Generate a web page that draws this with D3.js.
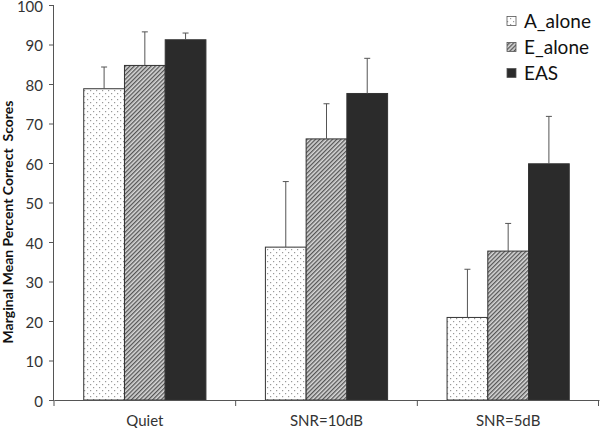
<!DOCTYPE html>
<html><head><meta charset="utf-8">
<script src="https://cdn.jsdelivr.net/npm/d3@7"></script>
<style>body{margin:0;background:#fff}svg{display:block}</style>
</head><body>
<svg id="c" width="600" height="428"></svg>
<script>
const categories = ["Quiet", "SNR=10dB", "SNR=5dB"];
const seriesNames = ["A_alone", "E_alone", "EAS"];
const aAlone = [78.8, 38.7, 20.9];
const eAlone = [84.7, 66.1, 37.7];
const eas = [91.2, 77.6, 59.8];
const aAloneErr = [84.3, 55.3, 33.1];
const eAloneErr = [93.2, 75.0, 44.7];
const easErr = [92.9, 86.5, 71.8];
const yTicks = [0, 10, 20, 30, 40, 50, 60, 70, 80, 90, 100];

(function(){
const values = [aAlone, eAlone, eas];
const errTops = [aAloneErr, eAloneErr, easErr];

const svg = d3.select("#c");
const defs = svg.append("defs");
const pd = defs.append("pattern").attr("id","dots").attr("patternUnits","userSpaceOnUse").attr("width",6).attr("height",6);
pd.append("rect").attr("width",6).attr("height",6).attr("fill","#fff");
pd.append("rect").attr("x",0).attr("y",0).attr("width",1.2).attr("height",1.2).attr("fill","#999");
pd.append("rect").attr("x",3).attr("y",3).attr("width",1.2).attr("height",1.2).attr("fill","#999");
const ph = defs.append("pattern").attr("id","hatch").attr("patternUnits","userSpaceOnUse").attr("width",3).attr("height",3).attr("patternTransform","rotate(45)");
ph.append("rect").attr("width",3).attr("height",3).attr("fill","#d8d8d8");
ph.append("rect").attr("x",0).attr("y",0).attr("width",1.3).attr("height",3).attr("fill","#555");

const fills = ["url(#dots)", "url(#hatch)", "#2b2b2b"];

const pL = 54, pR = 599, pT = 5, pB = 400;
const x = d3.scaleBand().domain(categories).range([pL, pR]).paddingInner(0).paddingOuter(0);
const xs = d3.scaleBand().domain(seriesNames).range([0, x.bandwidth()]).paddingOuter(0.73).paddingInner(0);
const y = d3.scaleLinear().domain([0, 100]).range([pB, pT]);

seriesNames.forEach((s, si) => {
  const g = svg.append("g");
  g.selectAll("rect").data(categories).join("rect")
    .attr("x", (c) => x(c) + xs(s))
    .attr("y", (c, i) => y(values[si][i]))
    .attr("width", xs.bandwidth())
    .attr("height", (c, i) => y(0) - y(values[si][i]))
    .attr("fill", fills[si])
    .attr("stroke", "#333").attr("stroke-width", 1);
  g.selectAll("line.e").data(categories).join("line").attr("class","e")
    .attr("x1", (c) => x(c) + xs(s) + xs.bandwidth()/2)
    .attr("x2", (c) => x(c) + xs(s) + xs.bandwidth()/2)
    .attr("y1", (c, i) => y(values[si][i]))
    .attr("y2", (c, i) => y(errTops[si][i]))
    .attr("stroke", "#555").attr("stroke-width", 1);
  g.selectAll("line.c").data(categories).join("line").attr("class","c")
    .attr("x1", (c) => x(c) + xs(s) + xs.bandwidth()/2 - 3)
    .attr("x2", (c) => x(c) + xs(s) + xs.bandwidth()/2 + 3)
    .attr("y1", (c, i) => y(errTops[si][i]))
    .attr("y2", (c, i) => y(errTops[si][i]))
    .attr("stroke", "#555").attr("stroke-width", 1);
});

const ya = svg.append("g").attr("transform", `translate(${pL},0)`)
  .call(d3.axisLeft(y).tickValues(yTicks).tickSize(5).tickPadding(6).tickFormat(d3.format("d")));
ya.select(".domain").attr("stroke", "#555").attr("d", `M-0.5,${pT}V${pB}`);
ya.selectAll(".tick line").attr("stroke", "#555");
ya.selectAll("text").attr("font-family", "Lato, 'Open Sans', sans-serif").attr("font-size", 15).attr("fill", "#333").attr("dy", "0.42em");

const xa = svg.append("g").attr("transform", `translate(0,${pB})`)
  .call(d3.axisBottom(x).tickSize(0).tickPadding(15));
xa.select(".domain").attr("stroke", "#555");
xa.selectAll("text").attr("font-family", "Lato, 'Open Sans', sans-serif").attr("font-size", 15).attr("fill", "#333");
const bounds = categories.map(c => x(c)).concat([x(categories[categories.length-1]) + x.bandwidth()]);
xa.selectAll("line.b").data(bounds).join("line").attr("class","b")
  .attr("x1", d => Math.min(d, pR - 0.5)).attr("x2", d => Math.min(d, pR - 0.5))
  .attr("y1", 0).attr("y2", 6).attr("stroke", "#555");

svg.append("text").attr("transform", "translate(13,222) rotate(-90)")
  .attr("text-anchor", "middle").attr("font-family", "Lato, 'Open Sans', sans-serif")
  .attr("font-size", 14).attr("font-weight", "bold").attr("fill", "#111")
  .style("white-space", "pre")
  .text("Marginal Mean Percent Correct  Scores");

const lg = svg.append("g");
seriesNames.forEach((s, i) => {
  const yy = 21 + i * 26;
  lg.append("rect").attr("x", 507).attr("y", yy - 4.5).attr("width", 9).attr("height", 9)
    .attr("fill", fills[i]).attr("stroke", "#555").attr("stroke-width", 0.8);
  lg.append("text").attr("x", 524).attr("y", yy).attr("dy", "0.36em")
    .attr("font-family", "Lato, 'Open Sans', sans-serif").attr("font-size", 19).attr("fill", "#111")
    .text(s);
});
})();
</script>
</body></html>
